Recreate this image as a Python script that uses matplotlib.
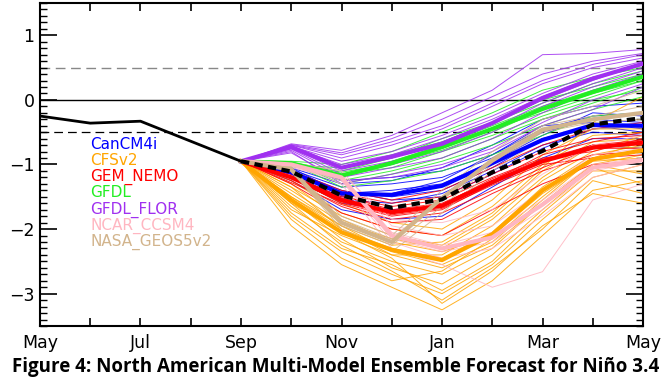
import matplotlib
matplotlib.use("Agg")
import matplotlib.pyplot as plt
import numpy as np

# Miesiace na osi x (maj -> maj)
months = ["May", "Jun", "Jul", "Aug", "Sep", "Oct", "Nov", "Dec", "Jan", "Feb", "Mar", "Apr", "May"]
month_labels = ["May", "", "Jul", "", "Sep", "", "Nov", "", "Jan", "", "Mar", "", "May"]

# Obserwacje (May..Sep)
obs = [-0.25, -0.36, -0.33, -0.64, -0.95]

# Srednia wszystkich modeli (Sep..May)
mme = [-0.95, -1.11, -1.48, -1.67, -1.54, -1.12, -0.79, -0.38, -0.28]

# CanCM4i
cancm4i_mean = [-0.95, -1.12, -1.45, -1.47, -1.33, -0.98, -0.62, -0.39, -0.40]
cancm4i_members = [
    [-0.95, -1.05, -1.30, -1.25, -1.05, -0.70, -0.30, -0.10, -0.05],
    [-0.95, -1.10, -1.40, -1.55, -1.50, -1.15, -0.75, -0.45, -0.40],
    [-0.95, -1.20, -1.60, -1.70, -1.65, -1.30, -0.95, -0.70, -0.75],
    [-0.95, -1.00, -1.25, -1.20, -1.10, -0.85, -0.45, -0.25, -0.20],
    [-0.95, -1.15, -1.55, -1.60, -1.45, -1.10, -0.70, -0.50, -0.55],
    [-0.95, -1.08, -1.35, -1.30, -1.20, -0.90, -0.50, -0.30, -0.35],
    [-0.95, -1.25, -1.70, -1.85, -1.80, -1.35, -0.90, -0.60, -0.60],
    [-0.95, -1.05, -1.45, -1.40, -1.30, -0.95, -0.55, -0.20, -0.25],
    [-0.95, -1.18, -1.50, -1.45, -1.25, -0.85, -0.40, -0.35, -0.45],
    [-0.95, -1.12, -1.42, -1.50, -1.40, -1.05, -0.60, -0.40, -0.50],
]

# CFSv2
cfsv2_mean = [-0.95, -1.55, -2.05, -2.32, -2.48, -2.08, -1.40, -0.92, -0.78]
cfsv2_members = [
    [-0.95, -1.20, -1.60, -1.90, -2.00, -1.55, -0.85, -0.45, -0.45],
    [-0.95, -1.35, -1.80, -2.10, -2.25, -1.80, -1.10, -0.65, -0.60],
    [-0.95, -1.50, -2.00, -2.30, -2.45, -2.05, -1.35, -0.85, -0.70],
    [-0.95, -1.65, -2.20, -2.50, -2.70, -2.30, -1.60, -1.00, -0.85],
    [-0.95, -1.80, -2.35, -2.70, -3.00, -2.55, -1.85, -1.20, -1.00],
    [-0.95, -1.95, -2.55, -2.90, -3.25, -2.80, -2.10, -1.40, -1.25],
    [-0.95, -1.45, -1.95, -2.35, -2.55, -2.20, -1.55, -0.90, -0.95],
    [-0.95, -1.70, -2.10, -2.40, -2.40, -1.95, -1.25, -0.80, -0.55],
    [-0.95, -1.55, -2.15, -2.60, -2.85, -2.40, -1.70, -1.05, -1.30],
    [-0.95, -1.30, -1.85, -2.20, -2.35, -2.10, -1.45, -0.95, -0.90],
    [-0.95, -1.60, -2.05, -2.45, -3.15, -2.65, -1.95, -1.45, -1.60],
    [-0.95, -1.40, -1.90, -2.15, -2.30, -1.85, -1.20, -0.70, -0.75],
    [-0.95, -1.85, -2.45, -2.80, -2.65, -2.15, -1.50, -0.90, -0.65],
    [-0.95, -1.25, -1.75, -2.00, -2.10, -1.65, -1.00, -0.55, -0.50],
    [-0.95, -1.75, -2.30, -2.55, -2.95, -2.50, -1.75, -1.10, -1.10],
    [-0.95, -1.50, -1.95, -2.25, -2.20, -1.75, -1.05, -0.35, 0.05],
    [-0.95, -1.60, -2.25, -2.65, -3.10, -2.60, -2.00, -1.25, -1.45],
    [-0.95, -1.35, -2.00, -2.40, -2.60, -2.25, -1.60, -1.00, -1.15],
]

# GEM_NEMO
gem_mean = [-0.95, -1.20, -1.55, -1.74, -1.64, -1.27, -0.95, -0.74, -0.66]
gem_members = [
    [-0.95, -1.10, -1.40, -1.55, -1.40, -1.05, -0.70, -0.45, -0.35],
    [-0.95, -1.25, -1.65, -1.90, -1.85, -1.45, -1.10, -0.85, -0.80],
    [-0.95, -1.30, -1.75, -2.00, -2.10, -1.70, -1.30, -1.00, -0.95],
    [-0.95, -1.15, -1.45, -1.60, -1.50, -1.15, -0.80, -0.60, -0.55],
    [-0.95, -1.20, -1.60, -1.80, -1.70, -1.30, -0.95, -0.70, -0.70],
    [-0.95, -1.18, -1.50, -1.65, -1.55, -1.20, -0.90, -0.80, -0.60],
    [-0.95, -1.28, -1.62, -1.85, -1.75, -1.40, -1.05, -0.75, -0.75],
    [-0.95, -1.12, -1.48, -1.70, -1.60, -1.25, -0.85, -0.65, -0.50],
    [-0.95, -1.22, -1.58, -1.78, -1.68, -1.32, -1.00, -0.90, -0.85],
    [-0.95, -1.15, -1.52, -1.72, -1.62, -1.22, -0.92, -0.70, -0.62],
]

# GFDL
gfdl_mean = [-0.95, -0.98, -1.17, -0.98, -0.73, -0.45, -0.14, 0.12, 0.36]
gfdl_members = [
    [-0.95, -0.95, -1.00, -0.80, -0.50, -0.20, 0.15, 0.35, 0.50],
    [-0.95, -1.00, -1.25, -1.10, -0.90, -0.60, -0.30, -0.05, 0.20],
    [-0.95, -0.98, -1.35, -1.25, -1.10, -0.85, -0.55, -0.25, -0.20],
    [-0.95, -0.97, -1.10, -0.90, -0.60, -0.35, -0.05, 0.25, 0.45],
    [-0.95, -1.02, -1.20, -1.00, -0.75, -0.45, -0.20, 0.05, 0.30],
    [-0.95, -0.99, -1.15, -1.05, -0.80, -0.55, -0.25, 0.00, 0.15],
    [-0.95, -1.01, -1.05, -0.85, -0.65, -0.35, 0.00, 0.20, 0.40],
    [-0.95, -0.96, -1.30, -1.15, -0.95, -0.70, -0.40, -0.15, 0.05],
    [-0.95, -1.03, -1.18, -0.95, -0.70, -0.40, -0.10, 0.15, 0.35],
    [-0.95, -0.98, -1.12, -0.98, -0.78, -0.50, -0.15, 0.10, 0.30],
]

# GFDL_FLOR
flor_mean = [-0.95, -0.73, -1.05, -0.88, -0.68, -0.36, 0.03, 0.33, 0.56]
flor_members = [
    [-0.95, -0.68, -0.78, -0.55, -0.20, 0.15, 0.70, 0.72, 0.78],
    [-0.95, -0.70, -0.85, -0.65, -0.40, -0.05, 0.30, 0.55, 0.70],
    [-0.95, -0.72, -0.95, -0.80, -0.55, -0.25, 0.10, 0.40, 0.60],
    [-0.95, -0.75, -1.10, -0.95, -0.75, -0.45, -0.05, 0.25, 0.50],
    [-0.95, -0.78, -1.20, -1.05, -0.90, -0.60, -0.20, 0.15, 0.40],
    [-0.95, -0.80, -1.30, -1.15, -1.00, -0.75, -0.35, 0.00, 0.25],
    [-0.95, -0.70, -0.90, -0.70, -0.45, -0.10, 0.25, 0.50, 0.65],
    [-0.95, -0.73, -1.00, -0.85, -0.60, -0.30, 0.05, 0.35, 0.55],
    [-0.95, -0.76, -1.15, -1.00, -0.80, -0.50, -0.10, 0.20, 0.45],
    [-0.95, -0.69, -0.82, -0.60, -0.30, 0.05, 0.40, 0.60, 0.72],
    [-0.95, -0.74, -1.05, -0.90, -0.65, -0.35, 0.00, 0.30, 0.58],
    [-0.95, -0.82, -1.25, -1.20, -1.05, -0.80, -0.40, -0.15, 0.20],
]

# NCAR_CCSM4
ncar_mean = [-0.95, -1.00, -1.20, -2.10, -2.30, -2.13, -1.62, -1.05, -0.93]
ncar_members = [
    [-0.95, -0.98, -1.15, -1.85, -1.90, -1.70, -1.15, -0.70, -0.55],
    [-0.95, -1.02, -1.25, -2.20, -2.45, -2.30, -1.80, -1.20, -1.00],
    [-0.95, -1.00, -1.30, -2.30, -2.55, -2.90, -2.66, -1.55, -1.30],
    [-0.95, -0.97, -1.10, -1.95, -2.10, -1.95, -1.40, -0.85, -0.75],
    [-0.95, -1.05, -1.22, -2.15, -2.35, -2.20, -1.70, -1.10, -0.95],
    [-0.95, -1.01, -1.18, -2.05, -2.25, -2.05, -1.55, -1.00, -0.90],
]

# NASA_GEOS5v2
nasa_mean = [-0.95, -1.08, -1.90, -2.20, -1.52, -0.94, -0.46, -0.30, -0.20]
nasa_members = [
    [-0.95, -1.05, -1.80, -2.10, -1.40, -0.80, -0.30, -0.10, 0.15],
    [-0.95, -1.10, -2.00, -2.35, -1.75, -1.10, -0.60, -0.45, -0.40],
    [-0.95, -1.12, -1.95, -2.25, -1.65, -1.00, -0.50, -0.35, -0.30],
    [-0.95, -1.04, -1.85, -2.15, -1.50, -0.90, -0.40, -0.25, -0.10],
]

models = ["CanCM4i", "CFSv2", "GEM_NEMO", "GFDL", "GFDL_FLOR", "NCAR_CCSM4", "NASA_GEOS5v2"]
colors = ["#0000ff", "#ffa500", "#ff0000", "#22ee22", "#a030f0", "#ffb6c1", "#d2b48c"]
means = [cancm4i_mean, cfsv2_mean, gem_mean, gfdl_mean, flor_mean, ncar_mean, nasa_mean]
members = [cancm4i_members, cfsv2_members, gem_members, gfdl_members, flor_members, ncar_members, nasa_members]

x_obs = np.arange(len(obs))
x_fc = np.arange(4, 13)

fig = plt.figure(figsize=(6.71, 3.78), dpi=100)
ax = fig.add_axes([0.0596, 0.1376, 0.8987, 0.8545])

# Linie odniesienia
ax.axhline(0, color="black", lw=1.0, zorder=1)
ax.axhline(0.5, color="#888888", lw=1.0, dashes=(7, 4), zorder=1)
ax.axhline(-0.5, color="black", lw=0.9, dashes=(7, 4), zorder=1)

# Cienkie linie czlonkow ensembli
for col, mem in zip(colors, members):
    for m in mem:
        ax.plot(x_fc, m, color=col, lw=0.7, alpha=0.85, zorder=2)

# Grube linie srednich modeli
for col, mean in zip(colors, means):
    ax.plot(x_fc, mean, color=col, lw=3.0, zorder=3)

# Srednia wszystkich modeli i obserwacje
ax.plot(x_fc, mme, color="black", lw=3.0, dashes=(2.0, 1.3), zorder=4)
ax.plot(x_obs, obs, color="black", lw=2.0, zorder=4)

# Podpisy modeli
label_y = [-0.76, -1.01, -1.26, -1.51, -1.76, -2.01, -2.26]
for name, col, yy in zip(models, colors, label_y):
    ax.text(1.0, yy, name, color=col, fontsize=11, va="baseline", ha="left", zorder=5)

ax.set_xlim(0, 12)
ax.set_ylim(-3.5, 1.5)
ax.set_xticks(np.arange(13))
ax.set_xticklabels(month_labels, fontsize=12.5)
ax.set_yticks([-3, -2, -1, 0, 1])
ax.set_yticklabels(["\u22123", "\u22122", "\u22121", "0", "1"], fontsize=12.5)
ax.set_yticks(np.arange(-3.5, 1.51, 0.1), minor=True)
ax.tick_params(axis="x", direction="in", top=True, length=6, width=1.2, pad=6)
ax.tick_params(axis="y", which="major", direction="in", right=True, length=12, width=1.2, pad=4)
ax.tick_params(axis="y", which="minor", direction="in", right=True, length=5, width=1.0)
for s in ax.spines.values():
    s.set_linewidth(1.5)

fig.text(0.5, 0.017, "Figure 4: North American Multi-Model Ensemble Forecast for Niño 3.4",
         ha="center", va="baseline", fontsize=13.5, fontweight="bold", family=["Open Sans", "DejaVu Sans"])

plt.savefig("out.png", dpi=100)
